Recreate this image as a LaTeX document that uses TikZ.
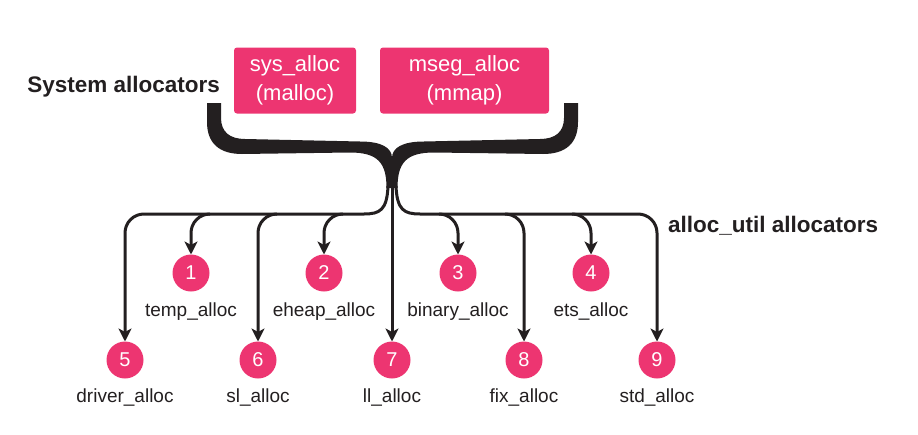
\documentclass[tikz,border=0pt]{standalone}
\usepackage{fontspec}
\setmainfont{Liberation Sans}
\usetikzlibrary{arrows.meta}
\definecolor{accent}{HTML}{ED3571}
\definecolor{ink}{HTML}{231F20}
\begin{document}
\begin{tikzpicture}[x=1pt,y=-1pt,
  every node/.style={inner sep=0pt, outer sep=0pt},
  sysbox/.style={fill=accent, rounded corners=3pt, minimum height=66pt, text=white,
    align=center, font=\fontsize{22}{29}\selectfont},
  num/.style={circle, fill=accent, minimum size=37pt, text=white,
    font=\fontsize{20}{24}\selectfont},
  lbl/.style={anchor=base, text=ink, font=\fontsize{19}{23}\selectfont},
  heading/.style={text=ink, font=\fontsize{22.5}{27}\selectfont\bfseries},
  link/.style={draw=ink, line width=3pt,
    -{Stealth[length=13pt,width=13pt,inset=3.5pt]}, rounded corners=19pt},
  trunk/.style={draw=ink, line width=3pt}
]
\useasboundingbox (0,0) rectangle (918,434);

% system allocators
\node[sysbox, minimum width=122pt] (sys) at (295,80.5) {sys\_alloc\\(malloc)};
\node[sysbox, minimum width=169pt] (mseg) at (464.5,80.5) {mseg\_alloc\\(mmap)};
\node[heading, anchor=base east] (sysh) at (220,92) {System allocators};
\node[heading, anchor=base west] (auh) at (668,232) {alloc\_util allocators};

% the brace gathering both system allocators
\fill[ink] (207,103) -- (207,122) .. controls (207,143) and (219,154) .. (242,154)
  -- (350,152.5) .. controls (378,152.5) and (386.5,163) .. (386.5,188)
  -- (392,188) -- (392,158) .. controls (392,148) and (382,141.5) .. (360,141.5)
  -- (245,139) .. controls (230,139) and (221,132) .. (221,118) -- (221,103) -- cycle;
\fill[ink] (578,103) -- (578,122) .. controls (578,143) and (566,154) .. (543,154)
  -- (434,152.5) .. controls (406,152.5) and (397.5,163) .. (397.5,188)
  -- (392,188) -- (392,158) .. controls (392,148) and (402,141.5) .. (424,141.5)
  -- (540,139) .. controls (555,139) and (564,132) .. (564,118) -- (564,103) -- cycle;

\coordinate (hubL) at (388,186);
\coordinate (hubM) at (392,186);
\coordinate (hubR) at (396,186);
\coordinate (busL) at (364,214);
\coordinate (busR) at (420,214);

% alloc_util allocators
\node[num] (n1) at (191,273) {1};
\node[num] (n2) at (324,273) {2};
\node[num] (n3) at (458,273) {3};
\node[num] (n4) at (591,273) {4};
\node[num] (n5) at (125,360) {5};
\node[num] (n6) at (258,360) {6};
\node[num] (n7) at (392,360) {7};
\node[num] (n8) at (524,360) {8};
\node[num] (n9) at (657,360) {9};

\node[lbl] (l1) at (191,316) {temp\_alloc};
\node[lbl] (l2) at (324,316) {eheap\_alloc};
\node[lbl] (l3) at (458,316) {binary\_alloc};
\node[lbl] (l4) at (591,316) {ets\_alloc};
\node[lbl] (l5) at (125,402) {driver\_alloc};
\node[lbl] (l6) at (258,402) {sl\_alloc};
\node[lbl] (l7) at (392,402) {ll\_alloc};
\node[lbl] (l8) at (524,402) {fix\_alloc};
\node[lbl] (l9) at (657,402) {std\_alloc};

% connectors
\draw[trunk] (hubL) .. controls (387,210) and (380,214) .. (busL);
\draw[trunk] (hubR) .. controls (397,210) and (404,214) .. (busR);
\draw[link] (hubM) -- (n7);
\draw[link] (busL) -- (125,214) -- (n5);
\draw[link] (busR) -- (657,214) -- (n9);
\draw[link] (210,214) -- (191,214) -- (n1);
\draw[link] (277,214) -- (258,214) -- (n6);
\draw[link] (343,214) -- (324,214) -- (n2);
\draw[link] (439,214) -- (458,214) -- (n3);
\draw[link] (505,214) -- (524,214) -- (n8);
\draw[link] (572,214) -- (591,214) -- (n4);
\end{tikzpicture}
\end{document}
